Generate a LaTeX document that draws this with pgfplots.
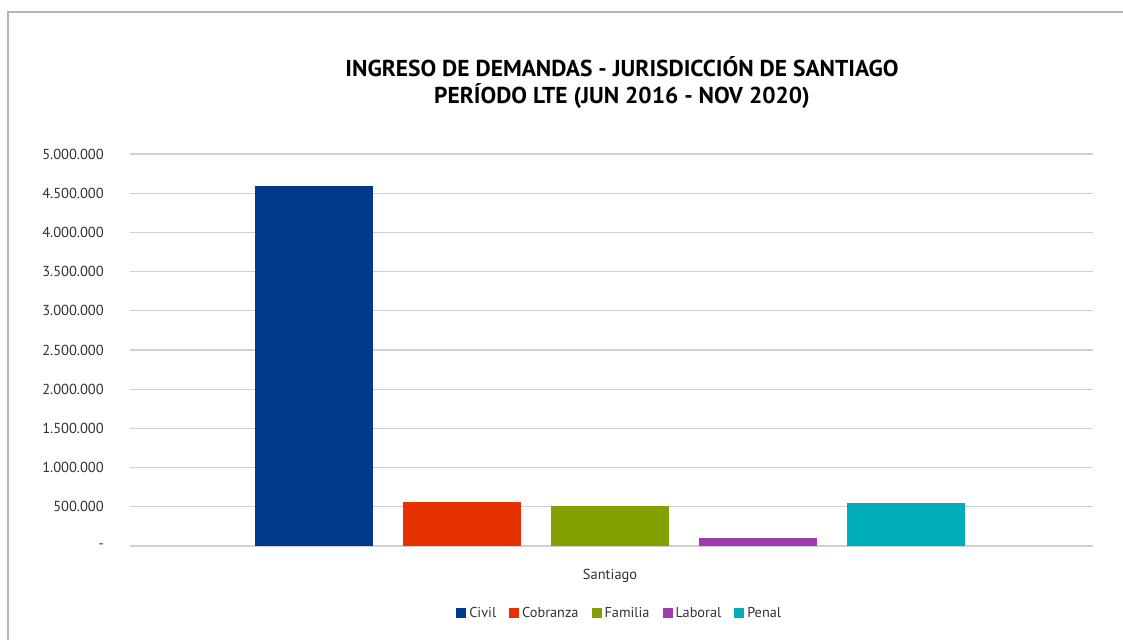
\documentclass[border=0pt]{standalone}
\usepackage{pgfplots}
\pgfplotsset{compat=1.18}
\usepackage{fontspec}
\setmainfont{PT Sans}
\newfontfamily\titlefont{PT Sans}[FakeStretch=1.02]
\definecolor{cCivil}{RGB}{0,56,140}
\definecolor{cCobranza}{RGB}{232,49,0}
\definecolor{cFamilia}{RGB}{128,161,0}
\definecolor{cLaboral}{RGB}{158,59,172}
\definecolor{cPenal}{RGB}{0,173,186}
\definecolor{gridgray}{RGB}{208,208,208}
\definecolor{txtgray}{RGB}{50,50,50}
\begin{document}
\begin{tikzpicture}
\useasboundingbox (0pt,0pt) rectangle (1123pt,640pt);
\draw[color={rgb,255:red,180;green,180;blue,180}, line width=1.5pt] (8pt,0pt) -- (8pt,628pt) -- (1123pt,628pt);
\node[anchor=base, font=\titlefont\bfseries\fontsize{23}{27}\selectfont] at (622pt,563pt) {INGRESO DE DEMANDAS - JURISDICCIÓN DE SANTIAGO};
\node[anchor=base, font=\titlefont\bfseries\fontsize{23}{27}\selectfont] at (622pt,536pt) {PERÍODO LTE (JUN 2016 - NOV 2020)};
\begin{axis}[
  at={(130pt,94pt)}, anchor=south west,
  width=963pt, height=392pt, scale only axis,
  ymin=0, ymax=5000000, xmin=-0.997, xmax=1.003,
  enlargelimits=false,
  scaled y ticks=false,
  ybar=30pt, bar width=118pt,
  xtick={0}, xticklabels={Santiago},
  ytick={0,500000,1000000,1500000,2000000,2500000,3000000,3500000,4000000,4500000,5000000},
  yticklabels={-,500.000,1.000.000,1.500.000,2.000.000,2.500.000,3.000.000,3.500.000,4.000.000,4.500.000,5.000.000},
  ymajorgrids, grid style={gridgray, line width=1.3pt},
  axis line style={draw=none},
  major tick style={draw=none},
  tick label style={font=\fontsize{14.5}{17}\selectfont, text=txtgray},
  yticklabel style={anchor=east, inner sep=0pt, xshift=-26pt},
  xticklabel style={anchor=north, inner sep=0pt, yshift=-19pt},
  legend columns=5,
  legend style={draw=none, fill=none, at={(0.508,-0.171)}, anchor=center,
    font=\fontsize{14.3}{17}\selectfont, text=txtgray,
    /tikz/every odd column/.append style={column sep=2pt},
    /tikz/every even column/.append style={column sep=12pt},
    nodes={inner sep=1pt}},
  legend image code/.code={\fill[#1] (0pt,-5pt) rectangle (10pt,5pt);},
]
\addplot[fill=cCivil, draw=none] coordinates {(0,4590000)};
\addplot[fill=cCobranza, draw=none] coordinates {(0,562000)};
\addplot[fill=cFamilia, draw=none] coordinates {(0,512000)};
\addplot[fill=cLaboral, draw=none] coordinates {(0,102000)};
\addplot[fill=cPenal, draw=none] coordinates {(0,550000)};
\legend{Civil,Cobranza,Familia,Laboral,Penal}
\end{axis}
\end{tikzpicture}
\end{document}
